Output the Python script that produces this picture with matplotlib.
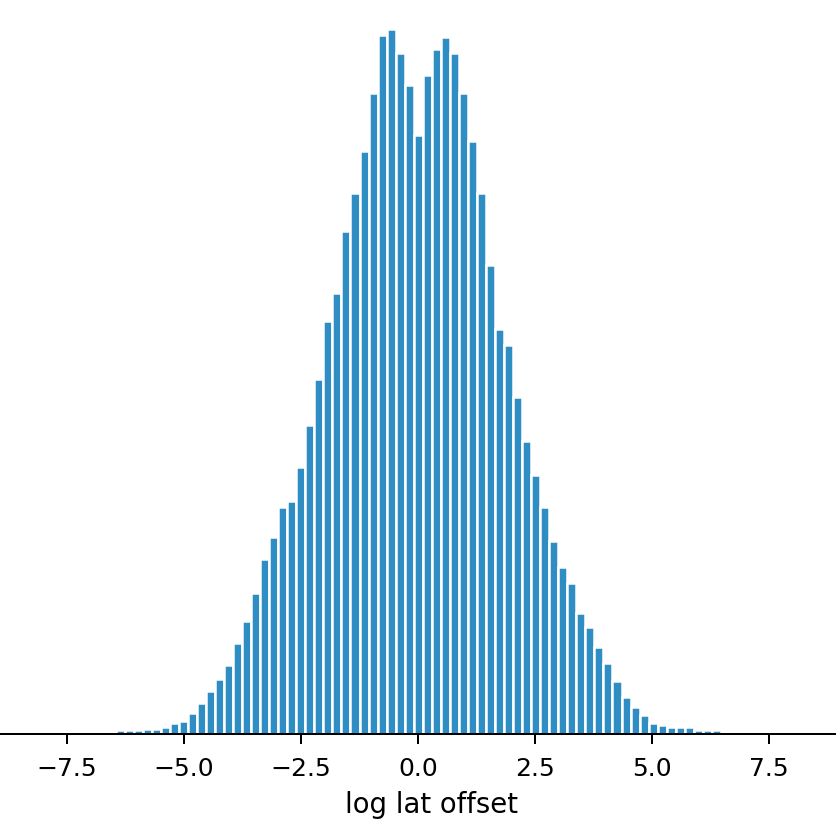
import numpy as np
import matplotlib
matplotlib.use("Agg")
import matplotlib.pyplot as plt

# Histogram of log lat offset: 67 equal bins between these limits
bin_min = -6.46
bin_max = 6.48
counts = [4, 4, 4, 5, 5, 7, 11, 13, 21, 31, 43, 55, 69, 91, 113, 141, 175, 197,
          227, 233, 267, 309, 355, 413, 441, 503, 541, 583, 641, 699, 705, 681,
          649, 599, 659, 685, 697, 681, 641, 593, 541, 469, 405, 389, 337, 293,
          259, 227, 193, 167, 151, 121, 107, 87, 71, 53, 37, 27, 19, 11, 9, 7,
          7, 7, 4, 4, 4]
xticks = [-7.5, -5.0, -2.5, 0.0, 2.5, 5.0, 7.5]
xlabel = "log lat offset"

edges = np.linspace(bin_min, bin_max, len(counts) + 1)

dpi = 180
fig = plt.figure(figsize=(836 / dpi, 834 / dpi), dpi=dpi)
ax = fig.add_axes([0, (834 - 734) / 834, 1, 734 / 834])
ax.bar(edges[:-1], counts, width=np.diff(edges), align="edge",
       color="#2e8ec3", edgecolor="white", linewidth=1.0)
ax.set_xlim(-8.93, 8.94)
ax.set_ylim(0, 734)
ax.set_xticks(xticks)
ax.set_xticklabels([f"{t:.1f}".replace("-", "\u2212") for t in xticks])
ax.tick_params(axis="x", pad=5.0, length=4)
ax.set_yticks([])
for s in ["left", "right", "top"]:
    ax.spines[s].set_visible(False)
ax.set_xlabel(xlabel, fontsize=11)
ax.xaxis.set_label_coords(0.516, -0.077)
fig.savefig("out.png", dpi=dpi)
